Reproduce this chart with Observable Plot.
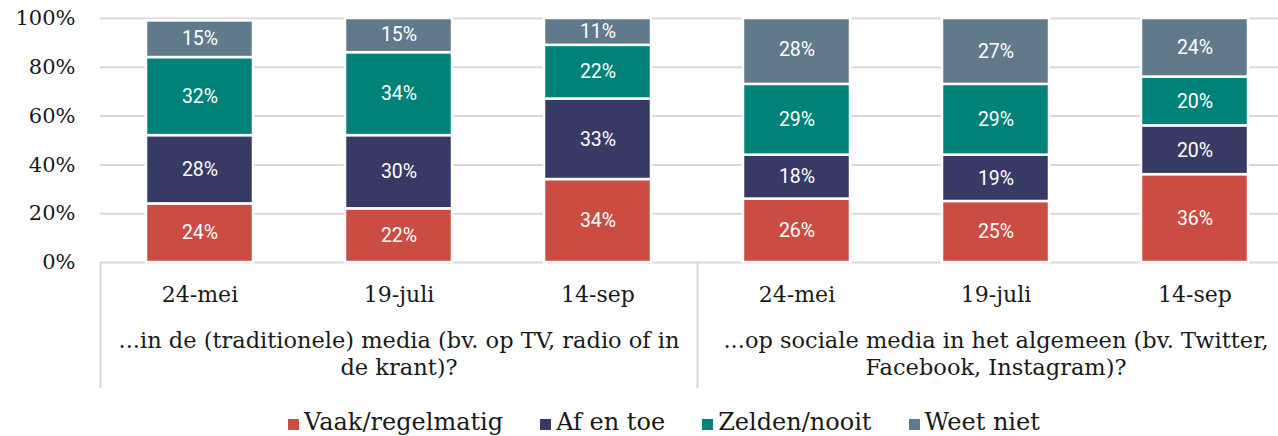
<!DOCTYPE html>
<html>
<head>
<meta charset="utf-8">
<script src="https://cdn.jsdelivr.net/npm/d3@7"></script>
<script src="https://cdn.jsdelivr.net/npm/@observablehq/plot@0.6"></script>
<style>
  html, body { margin: 0; padding: 0; background: #fff; overflow: hidden; }
  #legend { height: 41px; box-sizing: border-box; padding-top: 14px; padding-left: 50px; display: flex; justify-content: center; font-family: "DejaVu Serif", serif; font-size: 24px; color: #1a1a1a; line-height: 27px; }
  #legend .item { display: flex; align-items: baseline; margin: 0 18.5px; }
  #legend .sw { width: 11px; height: 11px; margin-right: 5px; display: inline-block; }
</style>
</head>
<body>
<div id="chart"></div>
<div id="legend"></div>
<script>
const groups = [
  "...in de (traditionele) media (bv. op TV, radio of in\nde krant)?",
  "...op sociale media in het algemeen (bv. Twitter,\nFacebook, Instagram)?"
];
const dates = ["24-mei", "19-juli", "14-sep"];
const series = ["Vaak/regelmatig", "Af en toe", "Zelden/nooit", "Weet niet"];
const colors = ["#cb4c43", "#383a66", "#008278", "#607a8c"];
const vaak = [24, 22, 34, 26, 25, 36];
const afEnToe = [28, 30, 33, 18, 19, 20];
const zelden = [32, 34, 22, 29, 29, 20];
const weetNiet = [15, 15, 11, 28, 27, 24];
const yTicks = [0, 20, 40, 60, 80, 100];

const keys = [];
groups.forEach((g, gi) => dates.forEach(d => keys.push(gi + "|" + d)));
const valuesBySeries = [vaak, afEnToe, zelden, weetNiet];
const data = [];
series.forEach((s, si) => keys.forEach((k, ki) => data.push({key: k, series: s, value: valuesBySeries[si][ki]})));
const groupData = groups.map((g, gi) => ({key: gi + "|" + dates[1], label: g}));
const sepData = groups.map((g, gi) => gi + "|" + dates[0]);

const W = 1278, H = 395, ML = 100, MT = 18, MB = 133;
const step = 199;

const chart = Plot.plot({
  width: W,
  height: H,
  marginLeft: ML,
  marginRight: 0,
  marginTop: MT,
  marginBottom: MB,
  style: {fontFamily: "DejaVu Serif, serif", fontSize: "20px", color: "#1a1a1a", background: "#fff", overflow: "visible"},
  x: {domain: keys, range: [ML, ML + step * keys.length], paddingInner: 0.46, paddingOuter: 0.23, label: null},
  y: {domain: [0, 100], clamp: true, label: null},
  color: {domain: series, range: colors},
  marks: [
    Plot.ruleY(yTicks, {stroke: "#d9d9d9", strokeWidth: 2}),
    Plot.ruleX(sepData, {x: d => d, dx: -step / 2, stroke: "#d9d9d9", strokeWidth: 2, insetTop: H - MT - MB, insetBottom: -126}),
    Plot.barY(data, Plot.stackY({x: "key", y: "value", fill: "series", order: series, stroke: "white", strokeWidth: 2.5})),
    Plot.text(data, Plot.stackY({x: "key", y: "value", z: "series", order: series, text: d => d.value + "%", fill: "white", fontFamily: "Roboto, sans-serif", fontSize: 19.5})),
    Plot.axisY({ticks: yTicks, tickFormat: d => d + "%", tickSize: 0, tickPadding: 25, fontSize: 21, label: null}),
    Plot.axisX({tickFormat: d => d.split("|")[1], tickSize: 0, tickPadding: 24, fontSize: 22, label: null}),
    Plot.text(groupData, {x: "key", text: "label", frameAnchor: "bottom", lineAnchor: "top", dy: 66, lineHeight: 1.2, fontSize: 22.5, fill: "#1a1a1a"})
  ]
});
document.getElementById("chart").appendChild(chart);

const legend = document.getElementById("legend");
series.forEach((s, i) => {
  const item = document.createElement("div");
  item.className = "item";
  const sw = document.createElement("span");
  sw.className = "sw";
  sw.style.background = colors[i];
  const t = document.createElement("span");
  t.textContent = s;
  item.appendChild(sw);
  item.appendChild(t);
  legend.appendChild(item);
});
</script>
</body>
</html>
